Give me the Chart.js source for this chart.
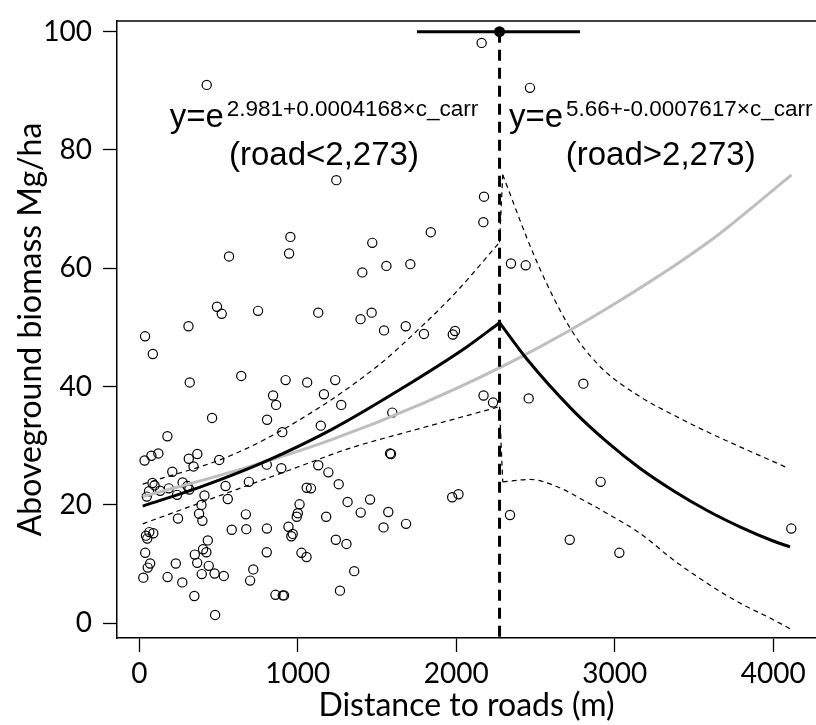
<!DOCTYPE html>
<html>
<head>
<meta charset="utf-8">
<script src="https://cdn.jsdelivr.net/npm/chart.js@4.4.1/dist/chart.umd.min.js"></script>
<style>
  html, body { margin: 0; padding: 0; background: #fff; overflow: hidden; }
</style>
</head>
<body>
<canvas id="chart" width="816" height="725"></canvas>
<script>
/* Biomassa x distância às estradas — regressão segmentada */

// ── Dados ─────────────────────────────────────────────────

// parcelas: distância à estrada (m) e biomassa (Mg/ha)
const distance = [
  2160, 425, 2465, 1243, 2175, 2171, 1839, 953, 945, 1470,
  566, 1407, 1559, 1710, 2345, 2438, 490, 520, 749, 1129,
  1396, 1466, 310, 1544, 1681, 1796, 1978, 1992, 36, 85,
  318, 643, 923, 1059, 1236, 844, 863, 1165, 1274, 2172,
  2232, 2457, 2802, 459, 806, 1596, 1145, 902, 177, 1582,
  1588, 33, 76, 120, 312, 366, 342, 504, 208, 804,
  896, 1129, 1193, 1258, 83, 96, 61, 47, 131, 186,
  273, 304, 315, 238, 411, 544, 558, 691, 1056, 1083,
  1314, 1456, 1974, 2014, 2911, 392, 244, 377, 398, 672,
  1011, 1000, 993, 1179, 1397, 1571, 1683, 1541, 2339, 63,
  42, 88, 50, 583, 675, 805, 941, 968, 959, 432,
  1240, 1307, 2716, 37, 350, 402, 423, 804, 1023, 1055,
  3029, 4114, 68, 53, 230, 365, 438, 719, 1356, 25,
  178, 394, 475, 533, 271, 699, 347, 859, 905, 913,
  1266, 478,
];
const biomass = [
  98.1, 91.0, 90.5, 74.9, 72.1, 67.8, 66.1, 65.3, 62.5, 64.3,
  62.0, 59.3, 60.4, 60.7, 60.8, 60.5, 53.5, 52.3, 52.8, 52.5,
  51.4, 52.5, 50.2, 49.5, 50.2, 48.9, 48.8, 49.4, 48.5, 45.5,
  40.7, 41.8, 41.1, 40.7, 41.1, 38.5, 36.9, 38.7, 36.9, 38.5,
  37.3, 38.0, 40.5, 34.7, 34.4, 35.6, 33.4, 32.3, 31.6, 28.7,
  28.6, 27.5, 28.3, 28.7, 27.8, 28.6, 26.5, 27.6, 25.6, 26.8,
  26.2, 26.7, 25.5, 23.5, 23.7, 23.3, 22.3, 21.4, 22.4, 22.8,
  23.8, 23.2, 22.6, 21.7, 21.6, 23.2, 21.0, 23.9, 22.9, 22.8,
  20.5, 20.9, 21.3, 21.8, 23.9, 20.0, 17.7, 18.5, 17.3, 18.4,
  20.1, 18.6, 18.0, 18.0, 18.7, 18.8, 16.8, 16.2, 18.3, 15.4,
  14.8, 15.2, 14.3, 15.8, 15.9, 16.0, 16.3, 15.1, 14.7, 14.0,
  14.1, 13.4, 14.1, 11.9, 11.6, 12.5, 12.0, 12.0, 11.9, 11.2,
  11.9, 16.0, 10.1, 9.4, 10.1, 10.2, 9.7, 9.1, 8.8, 7.7,
  7.8, 8.3, 8.4, 8.0, 6.9, 7.2, 4.6, 4.8, 4.7, 4.7,
  5.5, 1.4,
];

// ajuste segmentado (preto)
const fitLeftX = [21, 383, 800, 1224, 1645, 2066, 2273];
const fitLeftY = [19.8, 23.0, 27.4, 32.9, 39.5, 46.7, 50.8];
const fitRightX = [2273, 2444, 2739, 2949, 3159, 3370, 3580, 3790, 4000, 4106];
const fitRightY = [50.8, 44.7, 35.9, 30.7, 26.2, 22.4, 19.1, 16.3, 13.9, 12.9];

// ajuste único (cinza)
const fitAllX = [21, 600, 1200, 1800, 2400, 3000, 3600, 4116];
const fitAllY = [21.4, 25.7, 30.9, 37.3, 44.9, 54.0, 64.6, 75.8];

// intervalos de confiança (tracejado fino)
const upperLeftX = [21, 573, 1000, 1500, 1771, 2000, 2273];
const upperLeftY = [23.5, 28.3, 34.2, 43.4, 49.9, 56.0, 64.4];
const upperJumpX = [2273, 2293];
const upperJumpY = [64.4, 75.8];
const upperRightX = [2293, 2500, 2718, 2907, 3159, 3370, 3580, 4095];
const upperRightY = [75.8, 61.6, 49.9, 43.4, 38.3, 35.2, 32.4, 26.2];
const lowerLeftX = [21, 573, 1000, 1330, 1700, 2000, 2273];
const lowerLeftY = [16.8, 22.2, 26.4, 29.6, 32.4, 34.6, 36.6];
const lowerJumpX = [2273, 2293];
const lowerJumpY = [36.6, 23.9];
const lowerRightX = [2293, 2465, 2634, 2802, 2949, 3159, 3370, 3580, 3790, 4000, 4117];
const lowerRightY = [23.9, 24.3, 23.1, 20.8, 18.6, 15.2, 10.7, 6.8, 3.4, 0.6, -1.1];

// ponto de quebra e seu intervalo
const breakX = [2273];
const breakY = [100];
const breakLow = [1752];
const breakHigh = [2781];

// eixos
const xTicks = [0, 1000, 2000, 3000, 4000];
const yTicks = [0, 20, 40, 60, 80, 100];

// textos
const eqBase = ['y=e', 'y=e'];
const eqExponent = ['2.981+0.0004168×c_carr', '5.66+-0.0007617×c_carr'];
const eqRange = ['(road<2,273)', '(road>2,273)'];
const eqCenterX = [1165, 3290];
const eqLineY = 83.9;
const rangeLineY = 77.4;

// ── Helpers ───────────────────────────────────────────────

const pts = (xs, ys) => xs.map((x, i) => ({ x, y: ys[i] }));

const AXIS_FONT = 'Lato, "Open Sans", sans-serif';
const TEXT_FONT = '"Liberation Sans", Arial, sans-serif';

function curve(data, opts) {
  return Object.assign({
    data,
    showLine: true,
    pointRadius: 0,
    borderColor: '#000',
    borderWidth: 3,
    cubicInterpolationMode: 'monotone',
  }, opts);
}

const band = (xs, ys) => curve(pts(xs, ys), { borderWidth: 1.2, borderDash: [5, 4], order: 6 });

// sem padding extra dos rótulos: a área do gráfico fica fixa
function noLabelPadding(s) {
  s.paddingTop = 0;
  s.paddingBottom = 0;
  s.paddingLeft = 0;
  s.paddingRight = 0;
}

// ── Plugins ───────────────────────────────────────────────

const paper = {
  id: 'paper',
  beforeDraw(chart) {
    const { ctx, width, height } = chart;
    ctx.save();
    ctx.fillStyle = '#fff';
    ctx.fillRect(0, 0, width, height);
    ctx.restore();
  },
  afterDraw(chart) {
    // linha superior da moldura (box do R)
    const { ctx, chartArea: a } = chart;
    ctx.save();
    ctx.strokeStyle = '#000';
    ctx.lineWidth = 1.5;
    ctx.beginPath();
    ctx.moveTo(a.left, a.top);
    ctx.lineTo(a.right, a.top);
    ctx.stroke();
    ctx.restore();
  },
};

const equations = {
  id: 'equations',
  afterDatasetsDraw(chart) {
    const { ctx, scales: { x, y } } = chart;
    ctx.save();
    ctx.fillStyle = '#000';
    ctx.textBaseline = 'alphabetic';
    eqCenterX.forEach((cx, i) => {
      const px = x.getPixelForValue(cx);
      const base = y.getPixelForValue(eqLineY);

      ctx.font = `33px ${TEXT_FONT}`;
      const w1 = ctx.measureText(eqBase[i]).width;
      ctx.font = `22.5px ${TEXT_FONT}`;
      const w2 = ctx.measureText(eqExponent[i]).width;
      const left = px - (w1 + 3 + w2) / 2;

      ctx.textAlign = 'left';
      ctx.font = `33px ${TEXT_FONT}`;
      ctx.fillText(eqBase[i], left, base);
      ctx.font = `22.5px ${TEXT_FONT}`;
      ctx.fillText(eqExponent[i], left + w1 + 3, base - 11);

      ctx.textAlign = 'center';
      ctx.font = `33px ${TEXT_FONT}`;
      ctx.fillText(eqRange[i], px, y.getPixelForValue(rangeLineY));
    });
    ctx.restore();
  },
};

// ── Chart ─────────────────────────────────────────────────

new Chart(document.getElementById('chart'), {
  type: 'scatter',
  data: {
    datasets: [
      {
        label: 'plots',
        data: pts(distance, biomass),
        pointStyle: 'circle',
        pointRadius: 4.6,
        borderWidth: 1.2,
        borderColor: '#000',
        backgroundColor: 'rgba(0,0,0,0)',
        order: 10,
      },
      band(upperLeftX, upperLeftY),
      curve(pts(upperJumpX, upperJumpY), { borderWidth: 1.2, borderDash: [5, 4], cubicInterpolationMode: 'default', order: 6 }),
      band(upperRightX, upperRightY),
      band(lowerLeftX, lowerLeftY),
      curve(pts(lowerJumpX, lowerJumpY), { borderWidth: 1.2, borderDash: [5, 4], cubicInterpolationMode: 'default', order: 6 }),
      band(lowerRightX, lowerRightY),
      curve(pts(fitAllX, fitAllY), { borderColor: '#bebebe', order: 5 }),
      curve(pts(fitLeftX, fitLeftY), { order: 4 }),
      curve(pts(fitRightX, fitRightY), { order: 4 }),
      // linha vertical no ponto de quebra
      curve(pts([breakX[0], breakX[0]], [breakY[0], -2.5]), {
        borderDash: [11, 7], cubicInterpolationMode: 'default', order: 3,
      }),
      // intervalo do ponto de quebra
      curve(pts([breakLow[0], breakHigh[0]], [breakY[0], breakY[0]]), {
        cubicInterpolationMode: 'default', order: 2,
      }),
      {
        label: 'break',
        data: pts(breakX, breakY),
        pointRadius: 5.5,
        borderWidth: 0,
        backgroundColor: '#000',
        order: 1,
      },
    ],
  },
  options: {
    responsive: false,
    animation: false,
    layout: { autoPadding: false, padding: { top: 21, right: 0, bottom: 0, left: 0 } },
    plugins: {
      legend: { display: false },
      tooltip: { enabled: false },
    },
    scales: {
      x: {
        type: 'linear',
        min: -141,
        max: 4270,
        afterBuildTicks: (s) => { s.ticks = xTicks.map(v => ({ value: v })); },
        afterFit: (s) => { s.height = 87; noLabelPadding(s); },
        border: { display: true, color: '#000', width: 1.5 },
        grid: { drawOnChartArea: false, tickLength: 14, tickColor: '#000', tickWidth: 1.3 },
        ticks: {
          color: '#000', padding: 5, maxRotation: 0,
          callback: (v) => String(v),
          font: { family: AXIS_FONT, size: 28 },
        },
        title: {
          display: true,
          text: 'Distance to roads (m)',
          color: '#000',
          padding: { top: 0, bottom: 0 },
          font: { family: AXIS_FONT, size: 32 },
        },
      },
      y: {
        type: 'linear',
        min: -2.5,
        max: 101.8,
        afterBuildTicks: (s) => { s.ticks = yTicks.map(v => ({ value: v })); },
        afterFit: (s) => { s.width = 117; noLabelPadding(s); },
        border: { display: true, color: '#000', width: 1.5 },
        grid: { drawOnChartArea: false, tickLength: 14, tickColor: '#000', tickWidth: 1.3 },
        ticks: {
          color: '#000', padding: 11,
          callback: (v) => String(v),
          font: { family: AXIS_FONT, size: 28 },
        },
        title: {
          display: true,
          text: 'Aboveground biomass Mg/ha',
          color: '#000',
          padding: { top: 11, bottom: 0 },
          font: { family: AXIS_FONT, size: 32 },
        },
      },
    },
  },
  plugins: [paper, equations],
});
</script>
</body>
</html>
